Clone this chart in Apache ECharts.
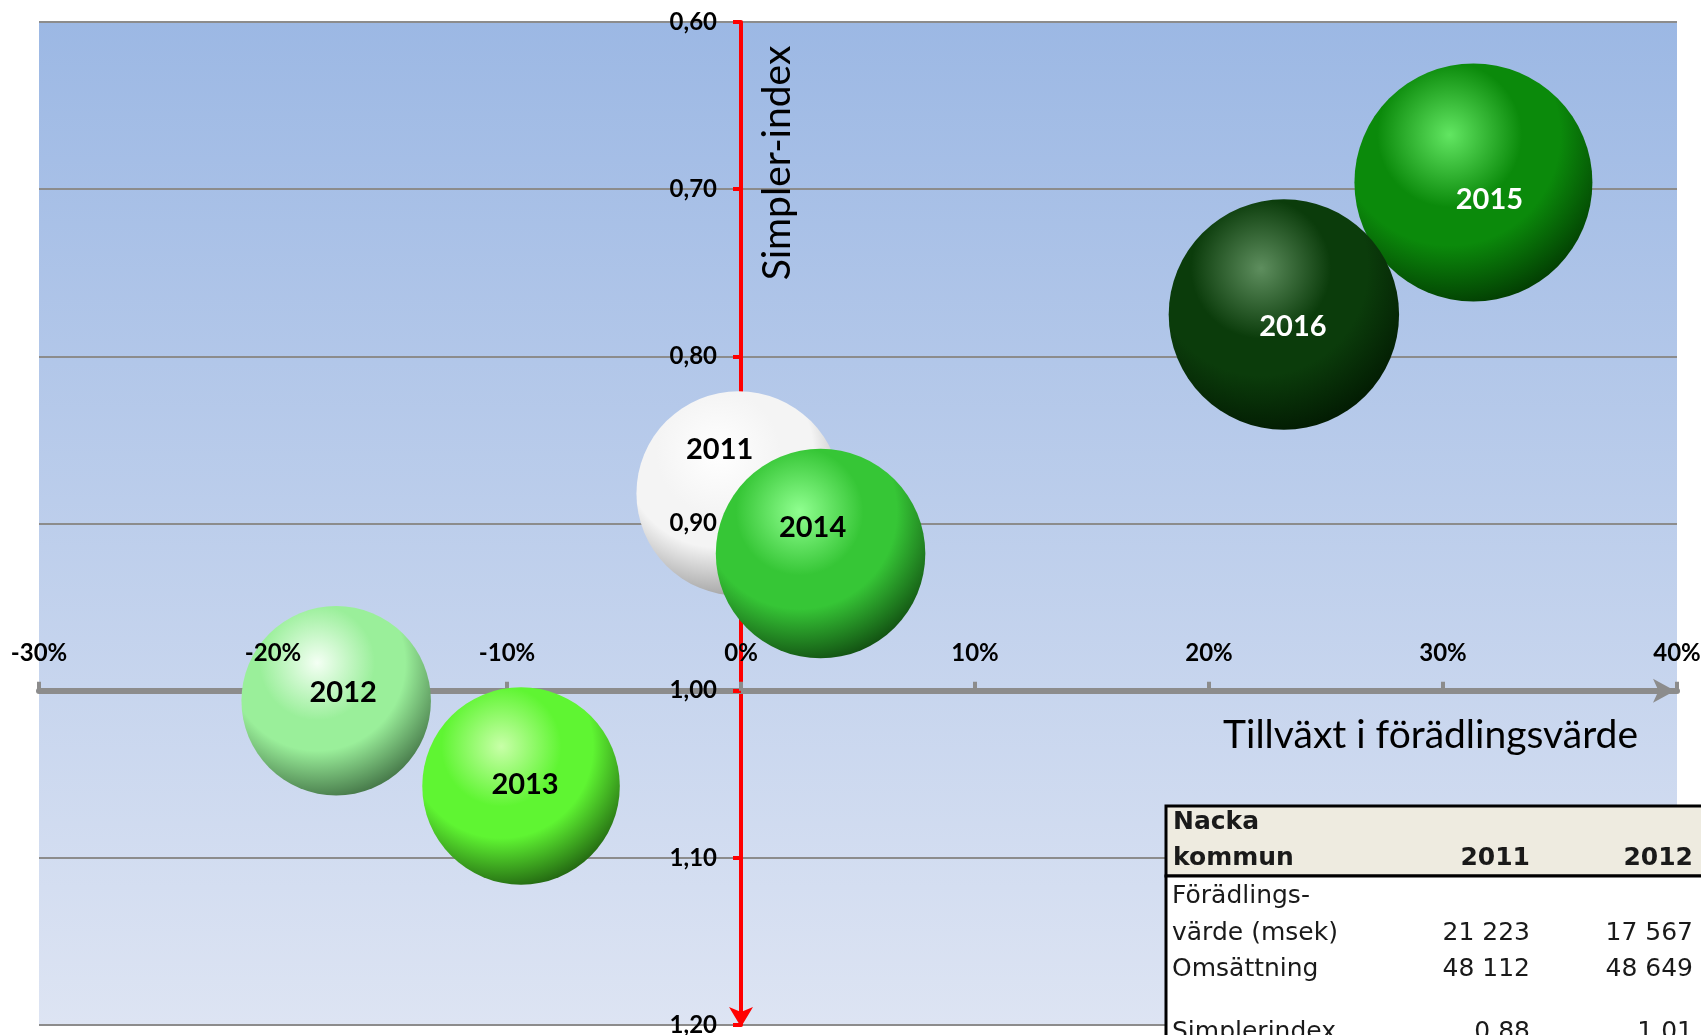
<!DOCTYPE html>
<html>
<head>
<meta charset="utf-8">
<script src="https://cdn.jsdelivr.net/npm/echarts@6.0.0/dist/echarts.min.js"></script>
<style>
  html, body { margin: 0; padding: 0; background: #fff; }
  #chart { width: 1701px; height: 1035px; }
</style>
</head>
<body>
<div id="chart"></div>
<script>
// data
const years = ['2011', '2012', '2013', '2014', '2015', '2016'];
const tillvaxt = [-0.1, -17.3, -9.4, 3.4, 31.3, 23.2];          // % growth in förädlingsvärde
const simplerIndex = [0.882, 1.006, 1.057, 0.918, 0.696, 0.775];
const bubbleValue = [73.8, 63.4, 68.9, 77.5, 100, 93.7];        // relative bubble area

const xMin = -30, xMax = 40, xStep = 10;
const yMin = 0.6, yMax = 1.2, yStep = 0.1, yCross = 1.0;

const tableYears = ['2011', '2012'];
const tableHead = ['Nacka', 'kommun'];
const tableLabels = [['Förädlings-', 'värde (msek)'], ['Omsättning'], ['Simplerindex']];
const tableValues = [['21 223', '17 567'], ['48 112', '48 649'], ['0,88', '1,01']];

// look of each bubble
const bubbleLook = [
  { hl: '#ffffff', mid: '#f4f4f4', edge: '#888888', text: '#000', offset: [-19, -44] },
  { hl: '#f4fff4', mid: '#9aef9a', edge: '#2e5632', text: '#000', offset: [7, -8] },
  { hl: '#c8ffa8', mid: '#5ff532', edge: '#123f08', text: '#000', offset: [4, -1] },
  { hl: '#90ff90', mid: '#36c636', edge: '#083008', text: '#000', offset: [-8, -26] },
  { hl: '#62e662', mid: '#0b8a0b', edge: '#002800', text: '#fff', offset: [16, 17] },
  { hl: '#5e8e5e', mid: '#0b3c0b', edge: '#001200', text: '#fff', offset: [9, 12] }
];

const MAX_R = 119;
const FONT = 'Lato, "Open Sans", sans-serif';
const TFONT = '"DejaVu Sans", Verdana, sans-serif';

const chart = echarts.init(document.getElementById('chart'));

const points = years.map((y, i) => ({
  name: y,
  value: [tillvaxt[i], simplerIndex[i] - yCross, bubbleValue[i]],
  itemStyle: {
    opacity: 1,
    color: {
      type: 'radial', x: 0.4, y: 0.3, r: 0.8,
      colorStops: [
        { offset: 0, color: bubbleLook[i].hl },
        { offset: 0.38, color: bubbleLook[i].mid },
        { offset: 0.58, color: bubbleLook[i].mid },
        { offset: 1, color: bubbleLook[i].edge }
      ]
    }
  },
  label: { color: bubbleLook[i].text, offset: bubbleLook[i].offset }
}));

const yFmt = v => (yCross + v).toFixed(2).replace('.', ',');

const xBase = { type: 'value', min: xMin, max: xMax, interval: xStep, position: 'bottom', splitLine: { show: false } };
const yBase = { type: 'value', min: yMin - yCross, max: yMax - yCross, interval: yStep, inverse: true, position: 'left' };

// table graphics
const tx = 1166, ty = 806, headH = 70;
const col1 = 1530, col2 = 1693;
const tableEls = [
  { type: 'rect', z: 30, shape: { x: tx, y: ty, width: 600, height: headH }, style: { fill: '#eeebe0', stroke: '#000', lineWidth: 3 } },
  { type: 'rect', z: 30, shape: { x: tx, y: ty + headH, width: 600, height: 300 }, style: { fill: '#fff', stroke: '#000', lineWidth: 3 } }
];
const txt = (text, x, y, align, bold) => ({
  type: 'text', x: x, y: y, z: 31,
  style: { text: text, fontFamily: TFONT, fontSize: 25, fontWeight: bold ? 'bold' : 'normal', fill: '#1a1a1a', align: align, verticalAlign: 'middle' }
});
tableEls.push(txt(tableHead[0], tx + 7, 822, 'left', true));
tableEls.push(txt(tableHead[1], tx + 7, 858, 'left', true));
tableEls.push(txt(tableYears[0], col1, 858, 'right', true));
tableEls.push(txt(tableYears[1], col2, 858, 'right', true));
const lineYs = [[896, 933], [969], [1032]];
tableLabels.forEach((lines, r) => {
  lines.forEach((l, k) => tableEls.push(txt(l, tx + 6, lineYs[r][k], 'left', false)));
  const vy = lineYs[r][lineYs[r].length - 1];
  tableEls.push(txt(tableValues[r][0], col1, vy, 'right', false));
  tableEls.push(txt(tableValues[r][1], col2, vy, 'right', false));
});

const grid = { left: 39, right: 24, top: 22, bottom: 10 };

chart.setOption({
  animation: false,
  grid: Object.assign({}, grid, {
    outerBoundsMode: 'none',
    containLabel: false,
    show: true, borderWidth: 0,
    backgroundColor: {
      type: 'linear', x: 0, y: 0, x2: 0, y2: 1,
      colorStops: [{ offset: 0, color: '#9cb8e4' }, { offset: 1, color: '#dde4f3' }]
    }
  }),
  xAxis: [
    Object.assign({}, xBase, {
      z: 0,
      axisLine: { onZero: true, symbol: ['none', 'arrow'], symbolSize: [18, 22], symbolOffset: [0, -2], lineStyle: { color: '#8c8c8c', width: 6 } },
      axisTick: { show: true, inside: true, length: 9, lineStyle: { color: '#8c8c8c', width: 4 } },
      axisLabel: { show: false }
    }),
    // labels only, drawn above the bubbles
    Object.assign({}, xBase, {
      z: 10,
      axisLine: { show: false, onZero: false },
      axisTick: { show: false },
      axisLabel: { inside: true, margin: 25, formatter: v => v + '%', fontFamily: FONT, fontWeight: 'bold', fontSize: 24, color: '#000' }
    })
  ],
  yAxis: [
    Object.assign({}, yBase, {
      z: 0,
      axisLine: { onZero: true, symbol: ['arrow', 'none'], symbolSize: [18, 20], symbolOffset: [-2, 0], lineStyle: { color: '#ff0000', width: 4 } },
      axisTick: { show: true, length: 8, lineStyle: { color: '#ff0000', width: 4 } },
      axisLabel: { show: false },
      splitLine: { show: true, lineStyle: { color: '#8c8c8c', width: 2 } }
    }),
    Object.assign({}, yBase, {
      z: 10,
      axisLine: { show: false, onZero: false },
      axisTick: { show: false },
      splitLine: { show: false },
      axisLabel: { margin: 24, formatter: yFmt, fontFamily: FONT, fontWeight: 'bold', fontSize: 24, color: '#000' }
    })
  ],
  series: [{
    type: 'scatter',
    xAxisIndex: 0, yAxisIndex: 0,
    z: 3,
    symbol: 'circle',
    symbolSize: v => 2 * MAX_R * Math.sqrt(v[2] / 100),
    itemStyle: { opacity: 1 },
    label: { show: true, position: 'inside', formatter: '{b}', fontFamily: FONT, fontWeight: 'bold', fontSize: 29 },
    data: points
  }],
  graphic: [
    { type: 'text', x: 777, y: 163, rotation: Math.PI / 2, z: 20,
      style: { text: 'Simpler-index', fontFamily: FONT, fontSize: 39, fill: '#000', align: 'center', verticalAlign: 'middle' } },
    { type: 'text', x: 1638, y: 735, z: 20,
      style: { text: 'Tillväxt i förädlingsvärde', fontFamily: FONT, fontSize: 39, fill: '#000', align: 'right', verticalAlign: 'middle' } },
    { type: 'group', children: tableEls }
  ]
});

// move the label axes onto the crossing point (x = 0 %, y = 1,00)
const zero = chart.convertToPixel({ gridIndex: 0 }, [0, 0]);
const gridBottomY = chart.getHeight() - grid.bottom;
chart.setOption({
  xAxis: [{}, { offset: zero[1] - gridBottomY }],
  yAxis: [{}, { offset: grid.left - zero[0] }]
});
</script>
</body>
</html>
